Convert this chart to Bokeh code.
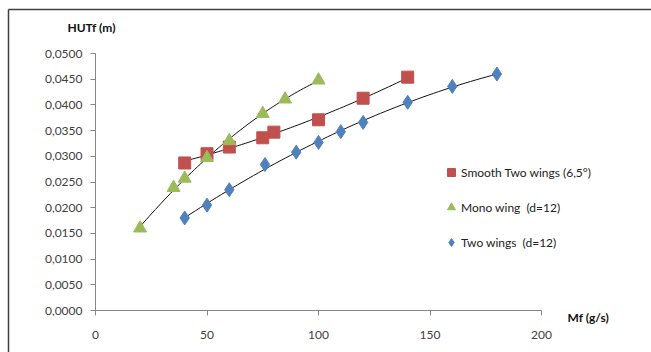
import numpy as np
from bokeh.plotting import figure
from bokeh.models import (FixedTicker, CustomJSTickFormatter, Label, Arrow,
                          Legend, LegendItem, Range1d)
from bokeh.embed import file_html
from bokeh.resources import INLINE

# ---- data ----
smooth_x = [40, 50, 60, 75, 80, 100, 120, 140]
smooth_y = [0.0287, 0.0305, 0.0318, 0.0336, 0.0347, 0.0371, 0.0413, 0.0454]

mono_x = [20, 35, 40, 50, 60, 75, 85, 100]
mono_y = [0.0160, 0.0239, 0.0257, 0.0297, 0.0330, 0.0383, 0.0411, 0.0448]

two_x = [40, 50, 60, 76, 90, 100, 110, 120, 140, 160, 180]
two_y = [0.0180, 0.0205, 0.0235, 0.0284, 0.0308, 0.0327, 0.0348, 0.0366, 0.0405, 0.0436, 0.0460]

x_ticks = [0, 50, 100, 150, 200]
y_ticks = [0.0, 0.005, 0.010, 0.015, 0.020, 0.025, 0.030, 0.035, 0.040, 0.045, 0.050]

FONT = "Lato"
RED, GREEN, BLUE = "#C0504D", "#9BBB59", "#4F81BD"

# frame fills the whole canvas: 0..200 -> px 95..541, 0..0.05 -> px 310..53
W, H = 651, 352
X0, XPX = 95.0, 446.0 / 200.0
Y0, YPX = 310.0, 257.0 / 0.05
p = figure(width=W, height=H, output_backend="svg", toolbar_location=None, title=None,
           x_range=Range1d(-X0 / XPX, (W - X0) / XPX),
           y_range=Range1d(-(H - Y0) / YPX, Y0 / YPX),
           min_border=0)
p.outline_line_color = None
p.xgrid.visible = False
p.ygrid.visible = False
p.background_fill_color = "white"
p.border_fill_color = "white"

for ax in (p.xaxis[0], p.yaxis[0]):
    ax.fixed_location = 0
    ax.axis_line_color = "#868686"
    ax.major_tick_line_color = "#868686"
    ax.major_tick_out = 5
    ax.major_tick_in = 0
    ax.minor_tick_line_color = None
    ax.major_label_text_font = FONT
    ax.major_label_text_font_size = "12px"
    ax.major_label_text_color = "#404040"

p.xaxis.bounds = (x_ticks[0], x_ticks[-1])
p.yaxis.bounds = (y_ticks[0], y_ticks[-1])
p.xaxis.ticker = FixedTicker(ticks=x_ticks)
p.yaxis.ticker = FixedTicker(ticks=y_ticks)
p.yaxis.formatter = CustomJSTickFormatter(code="return tick.toFixed(4).replace('.', ',');")
p.xaxis.major_label_standoff = 15
p.yaxis.major_label_standoff = 8


def trend(xs, ys):
    c = np.polyfit(xs, ys, 2)
    xx = np.linspace(min(xs), max(xs), 60)
    return xx, np.polyval(c, xx)


for xs, ys in ((mono_x, mono_y), (smooth_x, smooth_y), (two_x, two_y)):
    tx, ty = trend(xs, ys)
    p.line(tx, ty, line_color="#111111", line_width=1)

r_s = p.scatter(smooth_x, smooth_y, marker="square", size=12, fill_color=RED, line_color=RED)
r_m = p.scatter(mono_x, mono_y, marker="triangle", size=13, fill_color=GREEN, line_color=GREEN)
r_t = p.scatter(two_x, two_y, marker="diamond", size=14, fill_color=BLUE, line_color=BLUE)

legend = Legend(items=[
    LegendItem(label="Smooth Two wings (6,5°)", renderers=[r_s]),
    LegendItem(label="Mono wing  (d=12)", renderers=[r_m]),
    LegendItem(label="Two wings  (d=12)", renderers=[r_t]),
], location=(441, 100), label_text_font=FONT, label_text_font_size="12px",
    label_text_color="#222222", glyph_width=20, glyph_height=20,
    label_standoff=0, spacing=15, padding=0, margin=0,
    border_line_color=None, background_fill_alpha=0)
p.add_layout(legend)

p.add_layout(Label(x=-12.6, y=0.0551, text="HUTf (m)", text_font=FONT,
                   text_font_size="12px", text_font_style="bold",
                   text_baseline="middle", text_color="#111111"))
p.add_layout(Label(x=211.7, y=-0.0013, text="Mf (g/s)", text_font=FONT,
                   text_font_size="12px", text_font_style="bold",
                   text_baseline="middle", text_color="#111111"))

# outer chart-area border (top and left edges)
bx, by = (8 - X0) / XPX, (Y0 - 9) / YPX
p.add_layout(Arrow(end=None, x_start=bx, y_start=by, x_end=(W - X0) / XPX, y_end=by,
                   line_color="#404040", line_width=1.5))
p.add_layout(Arrow(end=None, x_start=bx, y_start=by, x_end=bx, y_end=-(H - Y0) / YPX,
                   line_color="#404040", line_width=1.5))

open("out.html", "w").write(file_html(p, INLINE))
